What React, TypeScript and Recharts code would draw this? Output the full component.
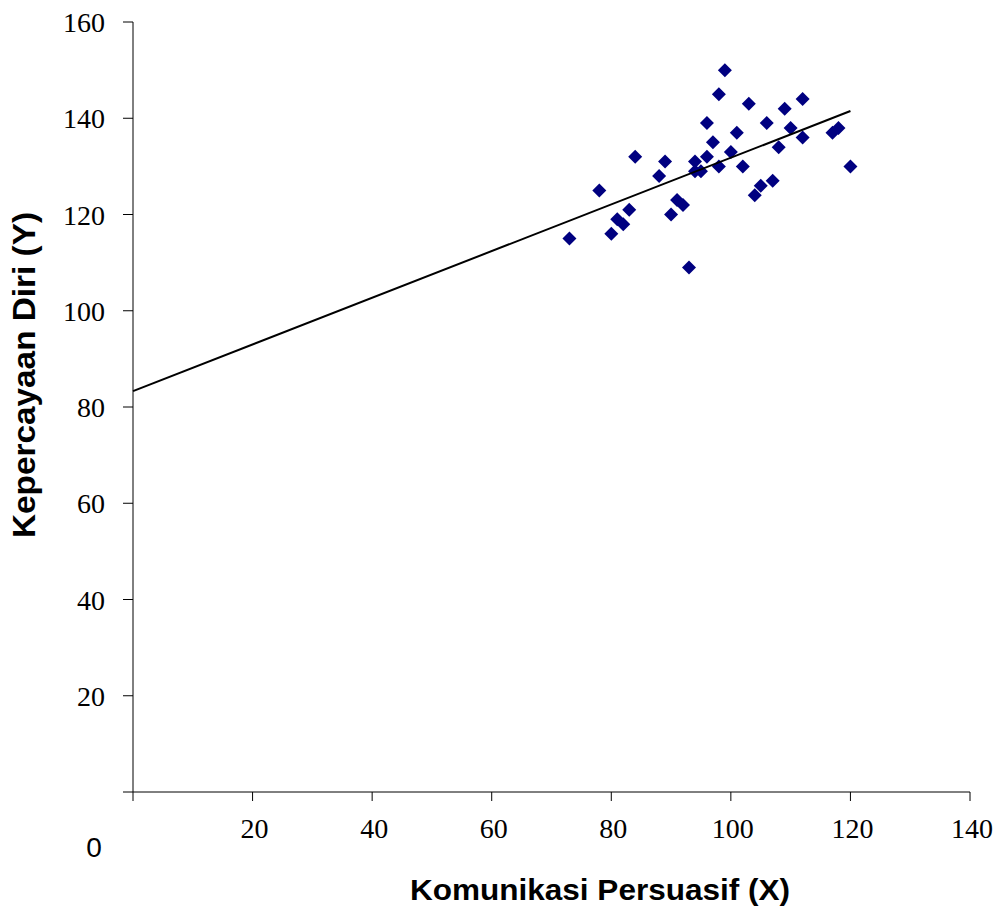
import React from "react";
import { Label, Scatter, ScatterChart, XAxis, YAxis } from "recharts";

// Komunikasi Persuasif (X) vs Kepercayaan Diri (Y), one respondent per point
const xValues = [
  73, 78, 80, 81, 82, 83, 84, 88, 89, 90, 91, 92, 93, 94, 94, 95, 96, 96, 97, 98,
  98, 99, 100, 101, 102, 103, 104, 105, 106, 107, 108, 109, 110, 112, 112, 117, 118, 120,
];
const yValues = [
  115, 125, 116, 119, 118, 121, 132, 128, 131, 120, 123, 122, 109, 131, 129, 129, 132, 139, 135, 145,
  130, 150, 133, 137, 130, 143, 124, 126, 139, 127, 134, 142, 138, 144, 136, 137, 138, 130,
];

// fitted regression line, drawn between its two end points
const fitX = [0, 120];
const fitY = [83.3, 141.5];

const xTicks = [0, 20, 40, 60, 80, 100, 120, 140];
const yTicks = [0, 20, 40, 60, 80, 100, 120, 140, 160];

const points = xValues.map((x, i) => ({ x, y: yValues[i] }));
const fitLine = fitX.map((x, i) => ({ x, y: fitY[i] }));

const SERIF = '"Liberation Serif", "Times New Roman", serif';
const SANS = '"Liberation Sans", Arial, sans-serif';
const NARROW = '"Liberation Sans Narrow", "Arial Narrow", "Liberation Sans", Arial, sans-serif';
const NAVY = "#000080";

function Diamond(props: any) {
  const { cx, cy } = props;
  if (cx == null || cy == null) return null;
  const r = 7;
  return (
    <polygon
      points={`${cx},${cy - r} ${cx + r},${cy} ${cx},${cy + r} ${cx - r},${cy}`}
      fill={NAVY}
    />
  );
}

function XTick(props: any) {
  const { x, y, payload } = props;
  if (payload.value === 0) return null;
  return (
    <text x={x + 2} y={y + 35} textAnchor="middle" fontFamily={SERIF} fontSize={28} fill="#000">
      {payload.value}
    </text>
  );
}

function YTick(props: any) {
  const { x, y, payload } = props;
  if (payload.value === 0) return null;
  return (
    <text x={x - 16} y={y + 10} textAnchor="end" fontFamily={SERIF} fontSize={28} fill="#000">
      {payload.value}
    </text>
  );
}

export default function App() {
  return (
    <div style={{ position: "absolute", left: 0, top: 0, background: "#fff" }}>
      <ScatterChart width={1000} height={913} margin={{ top: 22, right: 30, bottom: 0, left: 0 }}>
        <XAxis
          type="number"
          dataKey="x"
          domain={[0, 140]}
          ticks={xTicks}
          interval={0}
          height={121}
          tickSize={9}
          stroke="#000"
          tick={<XTick />}
        >
          <Label
            content={() => (
              <g>
                <text x={94} y={857} textAnchor="middle" fontFamily={SANS} fontSize={28} fill="#000">
                  0
                </text>
                <text
                  x={600}
                  y={900}
                  textAnchor="middle"
                  fontFamily={NARROW}
                  fontWeight="bold"
                  fontSize={29}
                  textLength={380}
                  lengthAdjust="spacingAndGlyphs"
                  fill="#000"
                >
                  Komunikasi Persuasif (X)
                </text>
              </g>
            )}
          />
        </XAxis>
        <YAxis
          type="number"
          dataKey="y"
          domain={[0, 160]}
          ticks={yTicks}
          interval={0}
          width={133}
          tickSize={10}
          stroke="#000"
          tick={<YTick />}
        >
          <Label
            content={() => (
              <text
                x={0}
                y={0}
                transform="translate(35 375) rotate(-90)"
                textAnchor="middle"
                fontFamily={NARROW}
                fontWeight="bold"
                fontSize={31}
                textLength={326}
                lengthAdjust="spacingAndGlyphs"
                fill="#000"
              >
                Kepercayaan Diri (Y)
              </text>
            )}
          />
        </YAxis>
        <Scatter data={points} fill={NAVY} shape={<Diamond />} isAnimationActive={false} />
        <Scatter
          data={fitLine}
          line={{ stroke: "#000", strokeWidth: 2 }}
          shape={() => null}
          isAnimationActive={false}
        />
      </ScatterChart>
    </div>
  );
}
